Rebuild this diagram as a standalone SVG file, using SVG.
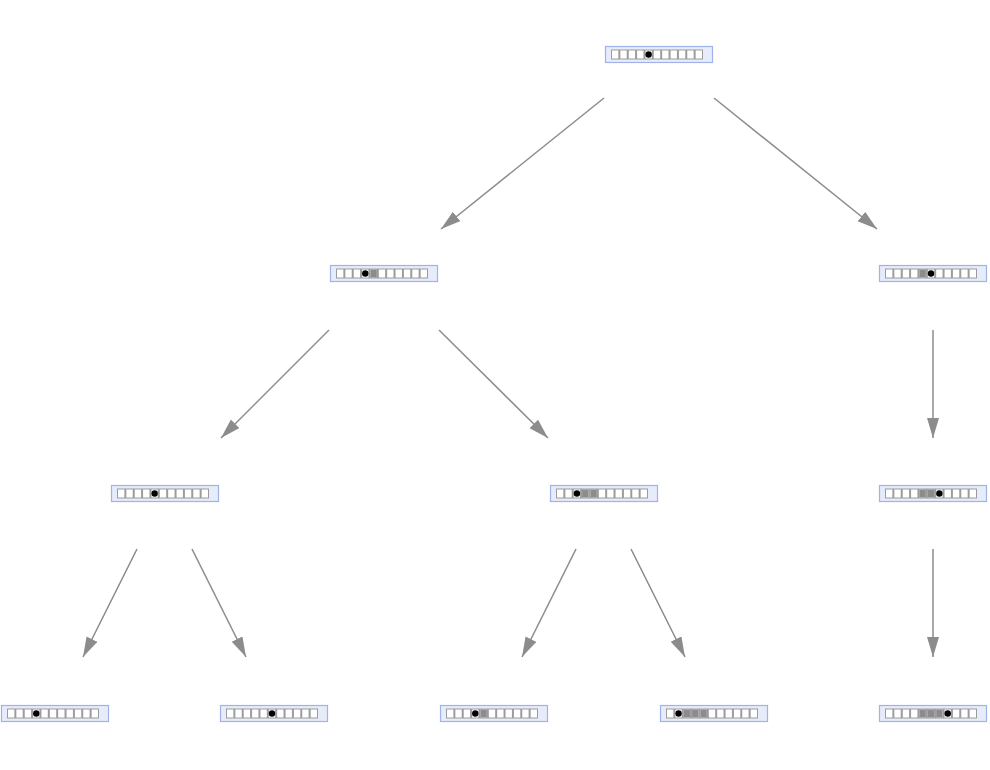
<svg xmlns="http://www.w3.org/2000/svg" xmlns:xlink="http://www.w3.org/1999/xlink" width="990" height="770" viewBox="0 0 990 770">
<style>
.box{fill:#e6ecfa;stroke:#9fb3e8;stroke-width:1.2}
.strip{fill:#9c9c9c}
.w{fill:#ffffff}
.g{fill:#8c8c8c}
.dot{fill:#000000}
.edge{stroke:#8c8c8c;stroke-width:1.5;fill:none;marker-end:url(#ah)}
</style>
<defs>
<marker id="ah" markerUnits="userSpaceOnUse" markerWidth="22" markerHeight="14" refX="20" refY="6" orient="auto">
<path d="M0,0 L20,6 L0,12 Z" fill="#8c8c8c"/>
</marker>
<g id="base">
<rect class="box" x="0.5" y="0.5" width="107" height="16"/>
<rect class="strip" x="6" y="3.5" width="92" height="10"/>
<rect class="w" x="7" y="4.5" width="6.36" height="8"/>
<rect class="w" x="15.36" y="4.5" width="6.36" height="8"/>
<rect class="w" x="23.73" y="4.5" width="6.36" height="8"/>
<rect class="w" x="32.09" y="4.5" width="6.36" height="8"/>
<rect class="w" x="40.45" y="4.5" width="6.36" height="8"/>
<rect class="w" x="48.82" y="4.5" width="6.36" height="8"/>
<rect class="w" x="57.18" y="4.5" width="6.36" height="8"/>
<rect class="w" x="65.55" y="4.5" width="6.36" height="8"/>
<rect class="w" x="73.91" y="4.5" width="6.36" height="8"/>
<rect class="w" x="82.27" y="4.5" width="6.36" height="8"/>
<rect class="w" x="90.64" y="4.5" width="6.36" height="8"/>
</g>
</defs>
<g id="connectors">
<line class="edge" x1="604" y1="98" x2="441" y2="229"/>
<line class="edge" x1="714" y1="98" x2="877" y2="229"/>
<line class="edge" x1="329" y1="330" x2="221" y2="438"/>
<line class="edge" x1="439" y1="330" x2="548" y2="438"/>
<line class="edge" x1="933" y1="330" x2="933" y2="438"/>
<line class="edge" x1="137" y1="549" x2="83" y2="657"/>
<line class="edge" x1="192" y1="549" x2="246" y2="657"/>
<line class="edge" x1="576" y1="549" x2="522" y2="657"/>
<line class="edge" x1="631" y1="549" x2="685" y2="657"/>
<line class="edge" x1="933" y1="549" x2="933" y2="657"/>
</g>
<g id="n1" transform="translate(605,46)">
<use xlink:href="#base"/>
<circle class="dot" cx="43.64" cy="8.5" r="3.2"/>
</g>
<g id="n2" transform="translate(330,265)">
<use xlink:href="#base"/>
<rect class="g" x="40.45" y="4.5" width="6.36" height="8"/>
<circle class="dot" cx="35.27" cy="8.5" r="3.2"/>
</g>
<g id="n3" transform="translate(879,265)">
<use xlink:href="#base"/>
<rect class="g" x="40.45" y="4.5" width="6.36" height="8"/>
<circle class="dot" cx="52" cy="8.5" r="3.2"/>
</g>
<g id="n4" transform="translate(111,485)">
<use xlink:href="#base"/>
<circle class="dot" cx="43.64" cy="8.5" r="3.2"/>
</g>
<g id="n5" transform="translate(550,485)">
<use xlink:href="#base"/>
<rect class="g" x="32.09" y="4.5" width="6.36" height="8"/>
<rect class="g" x="40.45" y="4.5" width="6.36" height="8"/>
<circle class="dot" cx="26.91" cy="8.5" r="3.2"/>
</g>
<g id="n6" transform="translate(879,485)">
<use xlink:href="#base"/>
<rect class="g" x="40.45" y="4.5" width="6.36" height="8"/>
<rect class="g" x="48.82" y="4.5" width="6.36" height="8"/>
<circle class="dot" cx="60.36" cy="8.5" r="3.2"/>
</g>
<g id="n7" transform="translate(1,705)">
<use xlink:href="#base"/>
<circle class="dot" cx="35.27" cy="8.5" r="3.2"/>
</g>
<g id="n8" transform="translate(220,705)">
<use xlink:href="#base"/>
<circle class="dot" cx="52" cy="8.5" r="3.2"/>
</g>
<g id="n9" transform="translate(440,705)">
<use xlink:href="#base"/>
<rect class="g" x="40.45" y="4.5" width="6.36" height="8"/>
<circle class="dot" cx="35.27" cy="8.5" r="3.2"/>
</g>
<g id="n10" transform="translate(660,705)">
<use xlink:href="#base"/>
<rect class="g" x="23.73" y="4.5" width="6.36" height="8"/>
<rect class="g" x="32.09" y="4.5" width="6.36" height="8"/>
<rect class="g" x="40.45" y="4.5" width="6.36" height="8"/>
<circle class="dot" cx="18.55" cy="8.5" r="3.2"/>
</g>
<g id="n11" transform="translate(879,705)">
<use xlink:href="#base"/>
<rect class="g" x="40.45" y="4.5" width="6.36" height="8"/>
<rect class="g" x="48.82" y="4.5" width="6.36" height="8"/>
<rect class="g" x="57.18" y="4.5" width="6.36" height="8"/>
<circle class="dot" cx="68.73" cy="8.5" r="3.2"/>
</g>
</svg>
